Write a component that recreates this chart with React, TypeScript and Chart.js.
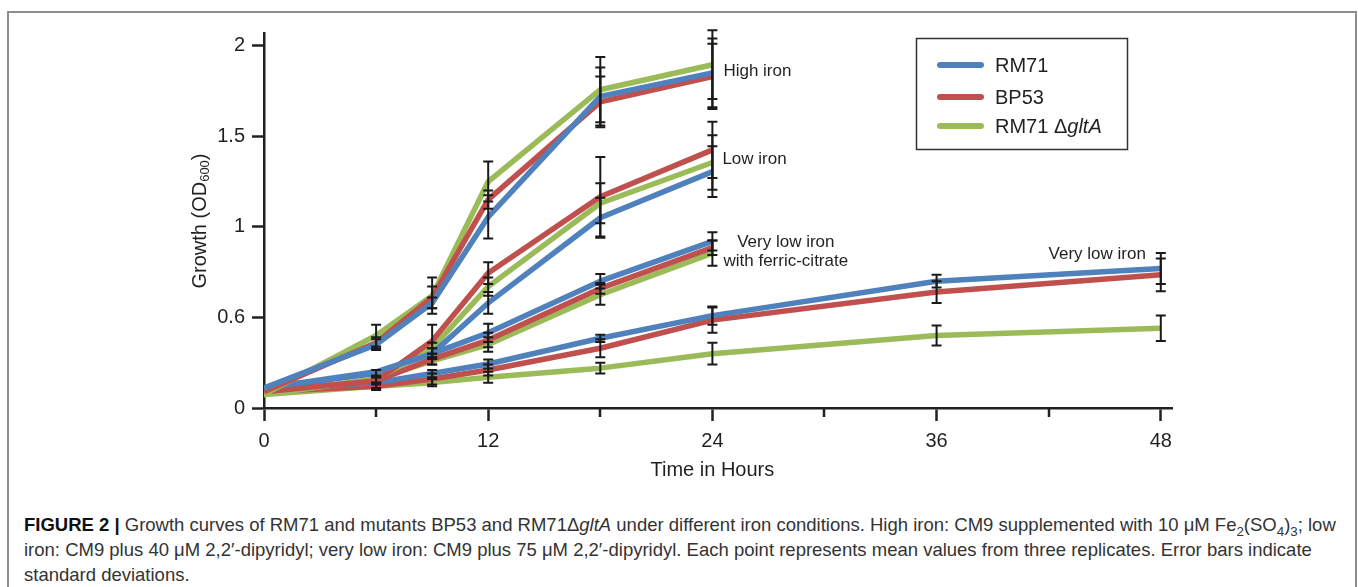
import React, { useEffect, useRef } from 'react';
import { Chart, registerables } from 'chart.js';

Chart.register(...registerables);

// ---------- data ----------
const TIME_SHORT = [0, 6, 9, 12, 18, 24];
const TIME_LONG = [0, 6, 9, 12, 18, 24, 36, 48];
const X_TICKS = [0, 6, 12, 18, 24, 30, 36, 42, 48];
const X_LABELED = [0, 12, 24, 36, 48];
const Y_TICKS = [0, 0.5, 1, 1.5, 2];
const Y_TICK_LABELS = ['0', '0.6', '1', '1.5', '2'];

const STRAINS = ['RM71', 'BP53', 'RM71 ΔgltA'];

// High iron
const HIGH_RM71 = [0.11, 0.35, 0.58, 1.055, 1.72, 1.85];
const HIGH_BP53 = [0.09, 0.36, 0.61, 1.15, 1.69, 1.83];
const HIGH_GLTA = [0.075, 0.4, 0.62, 1.25, 1.757, 1.895];
const HIGH_RM71_SD = [0, 0.03, 0.03, 0.12, 0.16, 0.19];
const HIGH_BP53_SD = [0, 0.03, 0.06, 0.05, 0.14, 0.18];
const HIGH_GLTA_SD = [0, 0.06, 0.1, 0.11, 0.18, 0.19];

// Low iron
const LOW_RM71 = [0.11, 0.2, 0.3, 0.58, 1.05, 1.305];
const LOW_BP53 = [0.09, 0.15, 0.37, 0.745, 1.166, 1.425];
const LOW_GLTA = [0.075, 0.16, 0.33, 0.67, 1.13, 1.355];
const LOW_RM71_SD = [0, 0, 0.03, 0.06, 0.11, 0.14];
const LOW_BP53_SD = [0, 0, 0.09, 0.06, 0.22, 0.155];
const LOW_GLTA_SD = [0, 0, 0.03, 0.05, 0.11, 0.15];

// Very low iron with ferric-citrate
const VLFC_RM71 = [0.11, 0.19, 0.3, 0.415, 0.7, 0.92];
const VLFC_BP53 = [0.09, 0.15, 0.27, 0.375, 0.66, 0.885];
const VLFC_GLTA = [0.075, 0.16, 0.26, 0.35, 0.625, 0.855];
const VLFC_RM71_SD = [0, 0.02, 0.03, 0.05, 0.04, 0.05];
const VLFC_BP53_SD = [0, 0.02, 0.03, 0.04, 0.03, 0.04];
const VLFC_GLTA_SD = [0, 0.02, 0.02, 0.04, 0.055, 0.07];

// Very low iron
const VL_RM71 = [0.11, 0.14, 0.19, 0.243, 0.385, 0.51, 0.7, 0.77];
const VL_BP53 = [0.09, 0.12, 0.16, 0.21, 0.33, 0.485, 0.64, 0.735];
const VL_GLTA = [0.075, 0.12, 0.14, 0.17, 0.22, 0.3, 0.4, 0.44];
const VL_RM71_SD = [0, 0.03, 0.02, 0.025, 0.02, 0.05, 0.035, 0.085];
const VL_BP53_SD = [0, 0.02, 0.03, 0.03, 0.05, 0.07, 0.06, 0.09];
const VL_GLTA_SD = [0, 0.02, 0.02, 0.03, 0.03, 0.06, 0.055, 0.07];

const ANNOTATION_TEXTS = ['High iron', 'Low iron', 'Very low iron', 'with ferric-citrate', 'Very low iron'];

// ---------- styling ----------
const FONT = '"Liberation Sans", Arial, Helvetica, sans-serif';
const INK = '#231f20';
const STRAIN_COLORS = ['#4f81bd', '#c0504d', '#9bbb59'];

const pts = (t: number[], v: number[]) => v.map((y, i) => ({ x: t[i], y }));

function makeDatasets() {
  const groups = [
    { t: TIME_SHORT, vals: [HIGH_RM71, HIGH_BP53, HIGH_GLTA], sds: [HIGH_RM71_SD, HIGH_BP53_SD, HIGH_GLTA_SD], name: 'High iron' },
    { t: TIME_SHORT, vals: [LOW_RM71, LOW_BP53, LOW_GLTA], sds: [LOW_RM71_SD, LOW_BP53_SD, LOW_GLTA_SD], name: 'Low iron' },
    { t: TIME_SHORT, vals: [VLFC_RM71, VLFC_BP53, VLFC_GLTA], sds: [VLFC_RM71_SD, VLFC_BP53_SD, VLFC_GLTA_SD], name: 'Very low iron + ferric-citrate' },
    { t: TIME_LONG, vals: [VL_RM71, VL_BP53, VL_GLTA], sds: [VL_RM71_SD, VL_BP53_SD, VL_GLTA_SD], name: 'Very low iron' },
  ];
  const out: any[] = [];
  groups.forEach((g) => {
    g.vals.forEach((v, s) => {
      out.push({
        label: STRAINS[s] + ' – ' + g.name,
        data: pts(g.t, v),
        errors: g.sds[s],
        borderColor: STRAIN_COLORS[s],
        backgroundColor: STRAIN_COLORS[s],
        borderWidth: 5.5,
        pointRadius: 0,
        tension: 0,
        borderJoinStyle: 'round',
        fill: false,
      });
    });
  });
  return out;
}

const errorBarPlugin = {
  id: 'errorBars',
  afterDatasetsDraw(chart: any) {
    const { ctx } = chart;
    const x = chart.scales.x;
    const y = chart.scales.y;
    ctx.save();
    ctx.strokeStyle = '#1a1a1a';
    ctx.lineWidth = 2;
    chart.data.datasets.forEach((ds: any) => {
      ds.data.forEach((p: any, i: number) => {
        const e = ds.errors[i];
        if (!e) return;
        const px = x.getPixelForValue(p.x);
        const top = y.getPixelForValue(p.y + e);
        const bot = y.getPixelForValue(p.y - e);
        ctx.beginPath();
        ctx.moveTo(px, top);
        ctx.lineTo(px, bot);
        ctx.moveTo(px - 5, top);
        ctx.lineTo(px + 5, top);
        ctx.moveTo(px - 5, bot);
        ctx.lineTo(px + 5, bot);
        ctx.stroke();
      });
    });
    ctx.restore();
  },
};

const decorPlugin = {
  id: 'decor',
  afterDraw(chart: any) {
    const { ctx, chartArea } = chart;
    const x = chart.scales.x;
    const y = chart.scales.y;
    ctx.save();

    // minor x ticks
    ctx.strokeStyle = INK;
    ctx.lineWidth = 2.5;
    X_TICKS.filter((t) => !X_LABELED.includes(t)).forEach((t) => {
      const px = Math.round(x.getPixelForValue(t));
      ctx.beginPath();
      ctx.moveTo(px, chartArea.bottom);
      ctx.lineTo(px, chartArea.bottom + 9);
      ctx.stroke();
    });

    // axis titles
    ctx.fillStyle = INK;
    ctx.textBaseline = 'middle';
    ctx.font = `20px ${FONT}`;
    ctx.textAlign = 'center';
    ctx.fillText('Time in Hours', (x.getPixelForValue(0) + x.getPixelForValue(48)) / 2, 470);

    ctx.save();
    ctx.translate(200, 221);
    ctx.rotate(-Math.PI / 2);
    ctx.textAlign = 'left';
    const p1 = 'Growth (OD';
    const p2 = '600';
    const p3 = ')';
    ctx.font = `20px ${FONT}`;
    const w1 = ctx.measureText(p1).width;
    const w3 = ctx.measureText(p3).width;
    ctx.font = `13px ${FONT}`;
    const w2 = ctx.measureText(p2).width;
    let cx = -(w1 + w2 + w3) / 2;
    ctx.font = `20px ${FONT}`;
    ctx.fillText(p1, cx, 0);
    cx += w1;
    ctx.font = `13px ${FONT}`;
    ctx.fillText(p2, cx, 5);
    cx += w2;
    ctx.font = `20px ${FONT}`;
    ctx.fillText(p3, cx, 0);
    ctx.restore();

    // annotations
    ctx.font = `17px ${FONT}`;
    ctx.fillStyle = INK;
    ctx.textAlign = 'left';
    ctx.fillText(ANNOTATION_TEXTS[0], x.getPixelForValue(24) + 11, y.getPixelForValue(1.856));
    ctx.fillText(ANNOTATION_TEXTS[1], x.getPixelForValue(24) + 10, y.getPixelForValue(1.37));
    ctx.textAlign = 'center';
    ctx.fillText(ANNOTATION_TEXTS[2], x.getPixelForValue(27.93), y.getPixelForValue(0.917));
    ctx.fillText(ANNOTATION_TEXTS[3], x.getPixelForValue(27.93), y.getPixelForValue(0.807));
    ctx.fillText(ANNOTATION_TEXTS[4], x.getPixelForValue(44.6), y.getPixelForValue(0.85));

    // legend
    const lx = 916.5, ly = 38.5, lw = 211, lh = 111;
    ctx.strokeStyle = '#333';
    ctx.lineWidth = 1.5;
    ctx.strokeRect(lx, ly, lw, lh);
    const rows = [65, 97, 126];
    rows.forEach((ry, i) => {
      ctx.strokeStyle = STRAIN_COLORS[i];
      ctx.lineWidth = 6;
      ctx.lineCap = 'round';
      ctx.beginPath();
      ctx.moveTo(940, ry);
      ctx.lineTo(981, ry);
      ctx.stroke();
    });
    ctx.fillStyle = INK;
    ctx.textAlign = 'left';
    ctx.textBaseline = 'middle';
    ctx.font = `20px ${FONT}`;
    ctx.fillText('RM71', 995, rows[0] + 1);
    ctx.fillText('BP53', 995, rows[1] + 1);
    const pre = 'RM71 Δ';
    ctx.fillText(pre, 995, rows[2] + 1);
    const wp = ctx.measureText(pre).width;
    ctx.font = `italic 20px ${FONT}`;
    ctx.fillText('gltA', 995 + wp, rows[2] + 1);

    ctx.restore();
  },
};

export default function App() {
  const ref = useRef<HTMLCanvasElement | null>(null);

  useEffect(() => {
    if (!ref.current) return;
    const chart = new Chart(ref.current, {
      type: 'line',
      data: { datasets: makeDatasets() },
      options: {
        responsive: false,
        animation: false,
        devicePixelRatio: 1,
        layout: { padding: { left: 0, top: 33, right: 186, bottom: 0 } },
        plugins: { legend: { display: false }, tooltip: { enabled: false }, title: { display: false } },
        scales: {
          x: {
            type: 'linear',
            min: 0,
            max: 48.6,
            afterBuildTicks: (axis: any) => {
              axis.ticks = X_TICKS.map((v) => ({ value: v }));
            },
            afterFit: (scale: any) => {
              scale.height = 82;
            },
            ticks: {
              autoSkip: false,
              maxRotation: 0,
              padding: 8,
              color: INK,
              font: { family: FONT, size: 20 },
              callback: (v: any) => (X_LABELED.includes(Number(v)) ? String(v) : ''),
            },
            grid: {
              display: true,
              drawOnChartArea: false,
              drawTicks: true,
              tickLength: 13,
              tickWidth: 2.5,
              tickColor: (c: any) => (c.tick && X_LABELED.includes(c.tick.value) ? INK : 'rgba(0,0,0,0)'),
            },
            border: { display: true, color: INK, width: 2.5 },
          },
          y: {
            type: 'linear',
            min: 0,
            max: 2.07,
            afterBuildTicks: (axis: any) => {
              axis.ticks = Y_TICKS.map((v) => ({ value: v }));
            },
            afterFit: (scale: any) => {
              scale.width = 264;
            },
            ticks: {
              padding: 7,
              color: INK,
              font: { family: FONT, size: 20 },
              callback: (_v: any, i: number) => Y_TICK_LABELS[i],
            },
            grid: {
              display: true,
              drawOnChartArea: false,
              drawTicks: true,
              tickLength: 12,
              tickWidth: 2.5,
              tickColor: INK,
            },
            border: { display: true, color: INK, width: 2.5 },
          },
        },
      } as any,
      plugins: [errorBarPlugin, decorPlugin],
    });
    return () => chart.destroy();
  }, []);

  const sub = { fontSize: '0.72em', lineHeight: 0, verticalAlign: 'sub' } as React.CSSProperties;

  return (
    <div style={{ position: 'fixed', left: 0, top: 0, width: 1358, height: 587, background: '#fff', overflow: 'hidden' }}>
      <div
        style={{
          position: 'absolute',
          left: 7,
          top: 11,
          width: 1346,
          height: 640,
          border: '2px solid #8d8d8d',
        }}
      />
      <canvas ref={ref} width={1358} height={490} style={{ position: 'absolute', left: 0, top: 0, width: 1358, height: 490 }} />
      <div
        style={{
          position: 'absolute',
          left: 24,
          top: 512,
          fontFamily: FONT,
          fontSize: 18.5,
          lineHeight: '25px',
          color: '#333',
          whiteSpace: 'nowrap',
        }}
      >
        <div>
          <b style={{ color: '#111' }}>FIGURE 2 |</b> Growth curves of RM71 and mutants BP53 and RM71Δ<i>gltA</i> under different iron conditions. High iron: CM9 supplemented with 10 μM Fe<span style={sub}>2</span>(SO<span style={sub}>4</span>)<span style={sub}>3</span>; low
        </div>
        <div>
          iron: CM9 plus 40 μM 2,2′-dipyridyl; very low iron: CM9 plus 75 μM 2,2′-dipyridyl. Each point represents mean values from three replicates. Error bars indicate
        </div>
        <div>standard deviations.</div>
      </div>
    </div>
  );
}
